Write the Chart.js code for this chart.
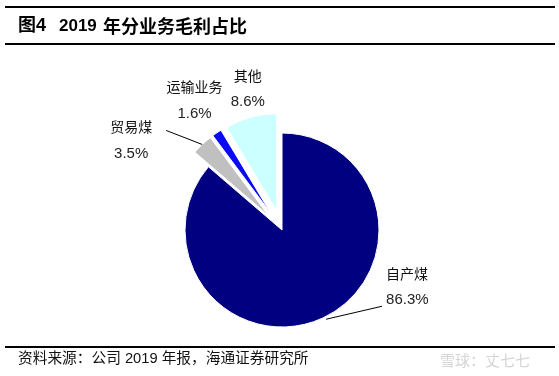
<!DOCTYPE html>
<html><head><meta charset="utf-8">
<script src="https://cdn.jsdelivr.net/npm/chart.js@4/dist/chart.umd.min.js"></script>
<style>html,body{margin:0;padding:0;background:#fff;}canvas{display:block;}</style>
</head><body>
<canvas id="c" width="559" height="376"></canvas>
<script>
const categories = ['自产煤', '贸易煤', '运输业务', '其他'];
const shares = [86.3, 3.5, 1.6, 8.6];
const shareLabels = ['86.3%', '3.5%', '1.6%', '8.6%'];
const sliceColors = ['#000080', '#C0C0C0', '#0A0AF5', '#CCFFFF'];
const sliceOffsets = [0, 20, 20, 20];
const titleParts = ['图4', '2019', '年分业务毛利占比'];
const sourceText = '资料来源：公司 2019 年报，海通证券研究所';

const CJK = '"Noto Sans CJK SC"';
const LAT = '"Liberation Sans"';

// Exploded slices: shift the whole wedge by its offset without enlarging it
const baseArcDraw = Chart.ArcElement.prototype.draw;
Chart.ArcElement.prototype.draw = function (ctx) {
  const o = this.options;
  const off = (o && o.offset) || 0;
  if (!off) return baseArcDraw.call(this, ctx);
  const mid = (this.startAngle + this.endAngle) / 2;
  ctx.save();
  ctx.translate(Math.cos(mid) * off, Math.sin(mid) * off);
  this.options = Object.assign({}, o, { offset: 0 });
  baseArcDraw.call(this, ctx);
  this.options = o;
  ctx.restore();
};

const decor = {
  id: 'decor',
  afterDraw(chart) {
    const ctx = chart.ctx;
    const W = chart.width;
    ctx.save();
    ctx.strokeStyle = '#000';
    ctx.lineWidth = 2;
    [7, 44, 347].forEach(y => { ctx.beginPath(); ctx.moveTo(5, y); ctx.lineTo(W - 4, y); ctx.stroke(); });
    ctx.fillStyle = '#000';
    ctx.textBaseline = 'middle';
    ctx.textAlign = 'left';
    ctx.font = 'bold 18px ' + LAT + ',' + CJK;
    ctx.fillText(titleParts[0], 18, 26);
    ctx.font = 'bold 17px ' + LAT + ',' + CJK;
    ctx.fillText(titleParts[1], 59, 26);
    ctx.font = 'bold 18px ' + CJK;
    ctx.fillText(titleParts[2], 103, 26);
    ctx.font = '14.7px ' + LAT + ',' + CJK;
    ctx.fillStyle = '#111';
    ctx.fillText(sourceText, 18, 359);
    ctx.font = '15px ' + CJK;
    ctx.fillStyle = 'rgba(150,150,150,0.4)';
    ctx.fillText('雪球：丈七七', 440, 360);

    const meta = chart.getDatasetMeta(0);
    const labelFont = '14px ' + CJK;
    const numFont = '15px ' + LAT;
    ctx.strokeStyle = '#000';
    ctx.lineWidth = 1;
    function block(i, cx, cy, align) {
      ctx.textAlign = align;
      ctx.fillStyle = '#111';
      ctx.font = labelFont;
      ctx.fillText(categories[i], cx, cy - 13);
      ctx.font = numFont;
      ctx.fillStyle = '#222';
      ctx.fillText(shareLabels[i], cx, cy + 14);
    }
    meta.data.forEach((arc, i) => {
      const p = arc.getProps(['x', 'y', 'startAngle', 'endAngle', 'outerRadius'], true);
      const mid = (p.startAngle + p.endAngle) / 2;
      const off = sliceOffsets[i];
      const cx = p.x + Math.cos(mid) * off;
      const cy = p.y + Math.sin(mid) * off;
      const ex = cx + Math.cos(mid) * p.outerRadius;
      const ey = cy + Math.sin(mid) * p.outerRadius;
      if (i === 0) {
        const sx = p.x + Math.cos(mid) * (p.outerRadius - 1);
        const sy = p.y + Math.sin(mid) * (p.outerRadius - 1);
        const lx = sx + 60, ly = sy - 11;
        ctx.beginPath(); ctx.moveTo(sx + 4, sy + 2); ctx.lineTo(lx, ly); ctx.stroke();
        block(i, lx + 4, ly - 20, 'left');
      } else if (i === 1) {
        const lx = ex - 36, ly = ey - 14;
        ctx.beginPath(); ctx.moveTo(ex, ey); ctx.lineTo(lx, ly); ctx.stroke();
        block(i, lx - 35, ly + 9, 'center');
      } else {
        const d = p.outerRadius + (i === 2 ? 60 : 50) - off;
        const tx = cx + Math.cos(mid) * d + (i === 3 ? 5 : 0);
        const ty = cy + Math.sin(mid) * d;
        block(i, tx, ty, 'center');
      }
    });
    ctx.restore();
  }
};

new Chart(document.getElementById('c'), {
  type: 'pie',
  data: {
    labels: categories,
    datasets: [{
      data: shares,
      backgroundColor: sliceColors,
      borderColor: '#ffffff',
      borderWidth: 1,
      offset: sliceOffsets,
      radius: 97
    }]
  },
  options: {
    responsive: false,
    devicePixelRatio: 1,
    animation: false,
    layout: { padding: { left: 50, right: 45, top: 100, bottom: 16 } },
    plugins: { legend: { display: false }, tooltip: { enabled: false }, title: { display: false } }
  },
  plugins: [decor]
});
</script>
</body></html>
